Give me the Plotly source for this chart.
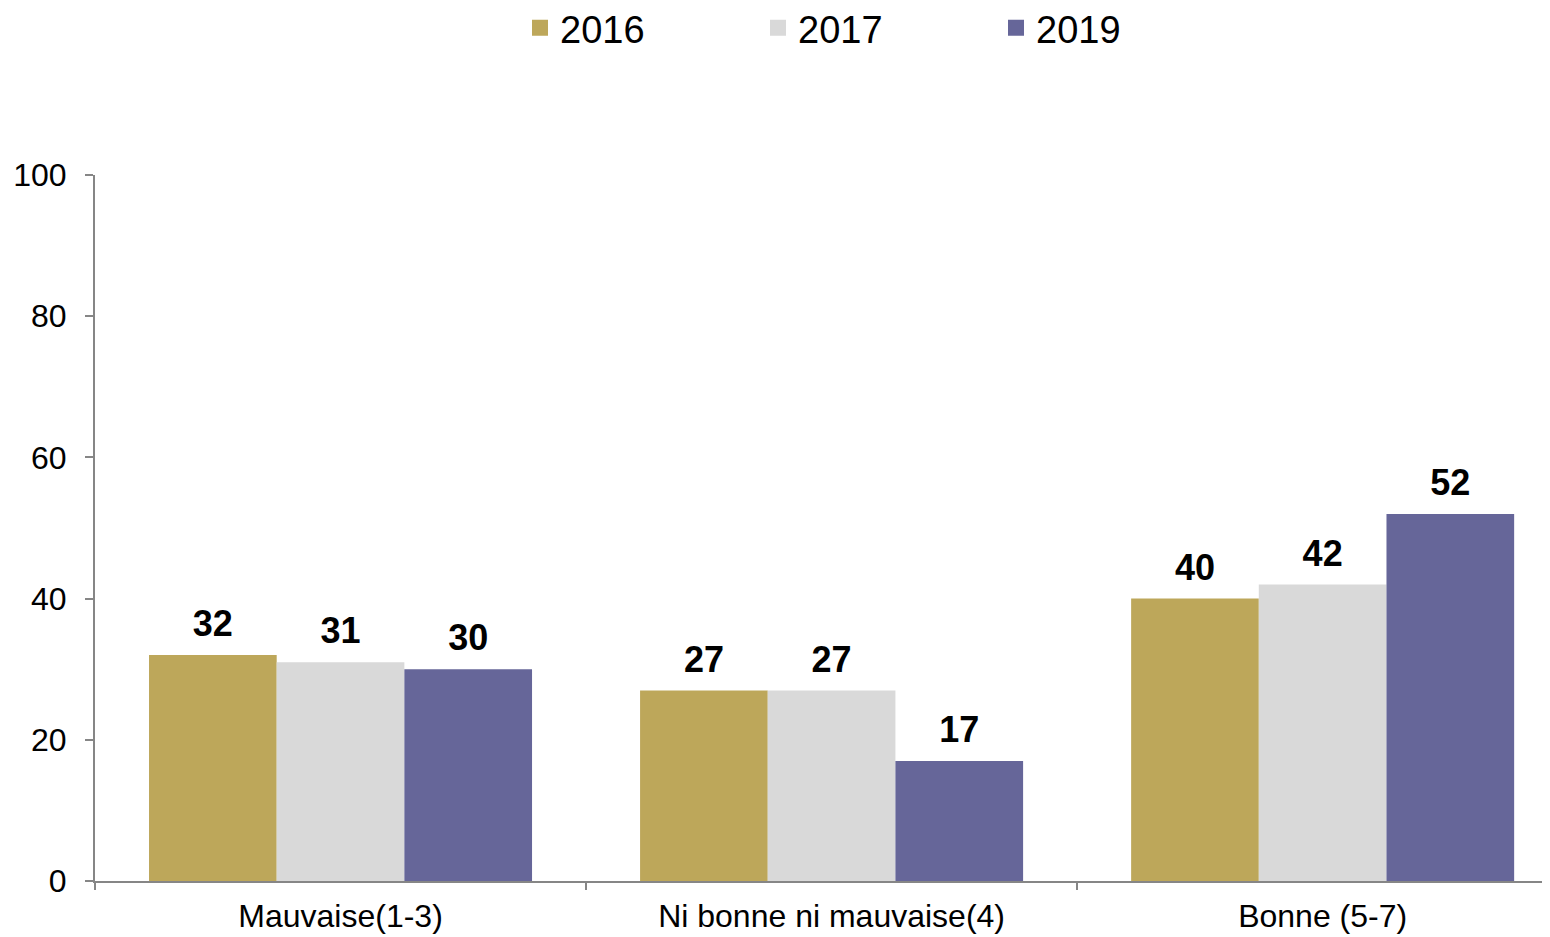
import plotly.graph_objects as go

categories = ["Mauvaise(1-3)", "Ni bonne ni mauvaise(4)", "Bonne (5-7)"]
series_names = ["2016", "2017", "2019"]
values_2016 = [32, 27, 40]
values_2017 = [31, 27, 42]
values_2019 = [30, 17, 52]
colors = ["#BDA75A", "#D9D9D9", "#666699"]

FONT = "Liberation Sans, Arial, sans-serif"

fig = go.Figure()
all_vals = [values_2016, values_2017, values_2019]
for name, vals, col in zip(series_names, all_vals, colors):
    fig.add_trace(go.Bar(
        name=name, x=categories, y=vals, offsetgroup=name, alignmentgroup="a",
        marker=dict(color=col, line=dict(width=0)),
        showlegend=False, hoverinfo="x+y+name",
    ))
# value labels placed above bars via grouped scatter (invisible markers pad the text)
for name, vals in zip(series_names, all_vals):
    fig.add_trace(go.Scatter(
        x=categories, y=vals, mode="markers+text", orientation="v",
        offsetgroup=name, alignmentgroup="a",
        marker=dict(size=14, opacity=0), text=[str(v) for v in vals],
        textposition="top center", cliponaxis=False,
        textfont=dict(family=FONT, size=36, color="#000000", weight="bold"),
        showlegend=False, hoverinfo="skip",
    ))
# legend entries
for name, col in zip(series_names, colors):
    fig.add_trace(go.Scatter(
        x=[None], y=[None], mode="markers", name=name,
        marker=dict(symbol="square", size=16, color=col, line=dict(width=0)),
    ))

fig.update_layout(
    width=1542, height=929,
    margin=dict(l=87, r=0, t=167, b=56, autoexpand=False),
    paper_bgcolor="white", plot_bgcolor="white",
    barmode="group", bargap=0.22, bargroupgap=0,
    scattermode="group", scattergap=0.22,
    font=dict(family=FONT, color="#000000"),
    legend=dict(
        orientation="h", x=0.2921, xanchor="left", y=1.2082, yanchor="middle",
        font=dict(size=38, family=FONT), entrywidth=193, entrywidthmode="pixels",
        itemclick=False, itemdoubleclick=False,
    ),
    xaxis=dict(
        type="category", range=[-0.5, 2.463], tickson="boundaries",
        showline=True, linecolor="#868686", linewidth=2,
        ticks="outside", ticklen=7, tickcolor="#868686", tickwidth=2,
        tickfont=dict(size=32, family=FONT), showgrid=False,
        ticklabelstandoff=6,
    ),
    yaxis=dict(
        range=[0, 100], tickvals=[0, 20, 40, 60, 80, 100],
        showline=True, linecolor="#868686", linewidth=2,
        ticks="outside", ticklen=8, tickcolor="#868686", tickwidth=2,
        tickfont=dict(size=32, family=FONT), showgrid=False, zeroline=False,
        ticklabelstandoff=12,
    ),
)

fig.write_html("out.html")
